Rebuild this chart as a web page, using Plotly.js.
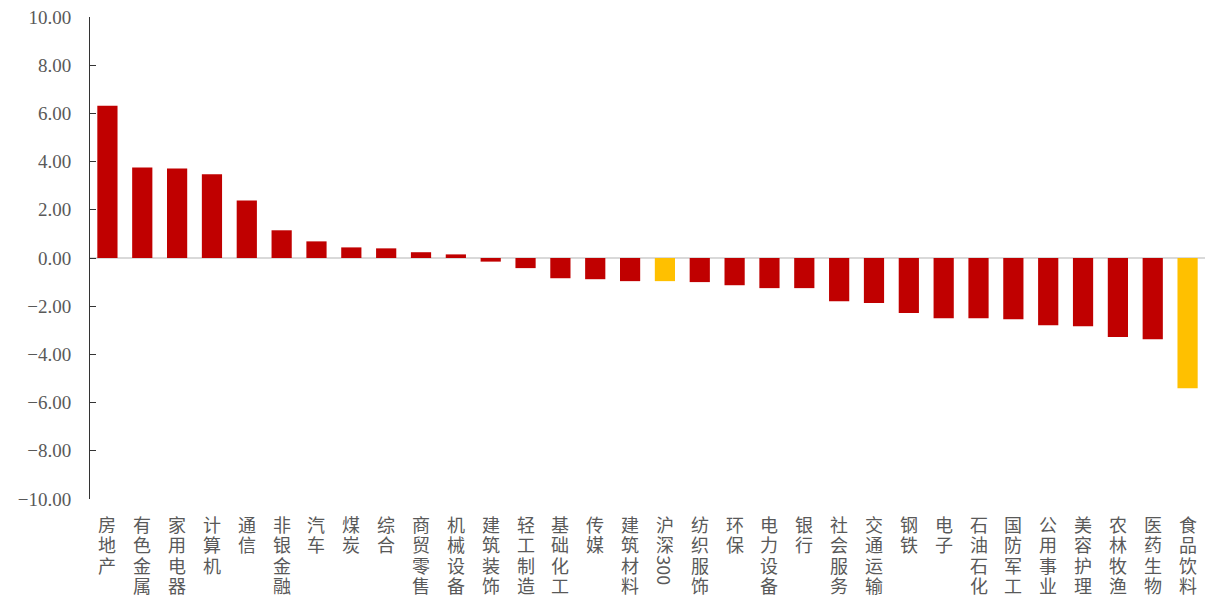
<!DOCTYPE html>
<html>
<head>
<meta charset="utf-8">
<script src="https://cdn.plot.ly/plotly-3.0.1.min.js"></script>
<style>
  html, body { margin: 0; padding: 0; background: #fff; }
  #chart { width: 1205px; height: 598px; }
</style>
</head>
<body>
<div id="chart"></div>
<script>
// Sector returns (%), sorted from highest to lowest
const sectors = [
  "房地产", "有色金属", "家用电器", "计算机", "通信", "非银金融", "汽车", "煤炭",
  "综合", "商贸零售", "机械设备", "建筑装饰", "轻工制造", "基础化工", "传媒", "建筑材料",
  "沪深300", "纺织服饰", "环保", "电力设备", "银行", "社会服务", "交通运输", "钢铁",
  "电子", "石油石化", "国防军工", "公用事业", "美容护理", "农林牧渔", "医药生物", "食品饮料"
];
const returns = [
  6.32, 3.76, 3.71, 3.47, 2.39, 1.15, 0.69, 0.44,
  0.40, 0.24, 0.15, -0.15, -0.42, -0.84, -0.88, -0.96,
  -0.96, -1.00, -1.13, -1.25, -1.25, -1.79, -1.87, -2.28,
  -2.50, -2.50, -2.54, -2.79, -2.83, -3.28, -3.37, -5.40
];
// Highlighted categories (benchmark and consumer staples)
const highlighted = ["沪深300", "食品饮料"];
const yTicks = [-10, -8, -6, -4, -2, 0, 2, 4, 6, 8, 10];

const RED = "#C00000";
const GOLD = "#FFC000";
const LABEL_FONT = { family: "Noto Sans CJK SC, sans-serif", size: 18, color: "#595959" };

// Page geometry used to place the vertical category labels
const H = 598, MT = 17, MB = 99;
const plotH = H - MT - MB;
const firstRowPx = 524;   // centre of the first stacked glyph
const rowStep = 20.3;     // vertical advance between stacked glyphs
const pxToPaper = px => (H - MB - px) / plotH;

// Vertical typesetting: CJK characters stacked one per row; a run of
// digits stays together and is turned sideways.
function verticalLabelNotes(name) {
  const tokens = name.match(/\d+|./gu) || [];
  const notes = [];
  let cursor = firstRowPx - rowStep / 2;      // top edge of the current row
  tokens.forEach(tok => {
    const isDigits = /^\d+$/.test(tok);
    const span = isDigits ? tok.length * 10.5 : rowStep;
    notes.push({
      x: name, xref: "x",
      y: pxToPaper(cursor + span / 2), yref: "paper",
      xanchor: "center", yanchor: "middle",
      text: tok,
      textangle: isDigits ? 90 : 0,
      showarrow: false,
      font: LABEL_FONT
    });
    cursor += span;
  });
  return notes;
}

const trace = {
  type: "bar",
  x: sectors,
  y: returns,
  marker: { color: sectors.map(s => highlighted.includes(s) ? GOLD : RED) },
  hoverinfo: "x+y"
};

const layout = {
  width: 1205,
  height: H,
  margin: { l: 90, r: 0, t: MT, b: MB },
  paper_bgcolor: "#fff",
  plot_bgcolor: "#fff",
  showlegend: false,
  bargap: 0.42,
  annotations: sectors.flatMap(verticalLabelNotes),
  xaxis: {
    type: "category",
    showticklabels: false,
    ticks: "",
    showline: false,
    showgrid: false,
    zeroline: false
  },
  yaxis: {
    range: [-10, 10],
    tickmode: "array",
    tickvals: yTicks,
    tickformat: ".2f",
    showgrid: false,
    showline: true,
    linecolor: "#333",
    linewidth: 1,
    ticks: "inside",
    ticklen: 6,
    tickcolor: "#333",
    zeroline: true,
    zerolinecolor: "#d9d9d9",
    zerolinewidth: 2,
    tickfont: { family: "Liberation Serif, DejaVu Serif, serif", size: 19, color: "#595959" },
    ticklabelstandoff: 14
  }
};

Plotly.newPlot("chart", [trace], layout, { displayModeBar: false, staticPlot: true });
</script>
</body>
</html>
